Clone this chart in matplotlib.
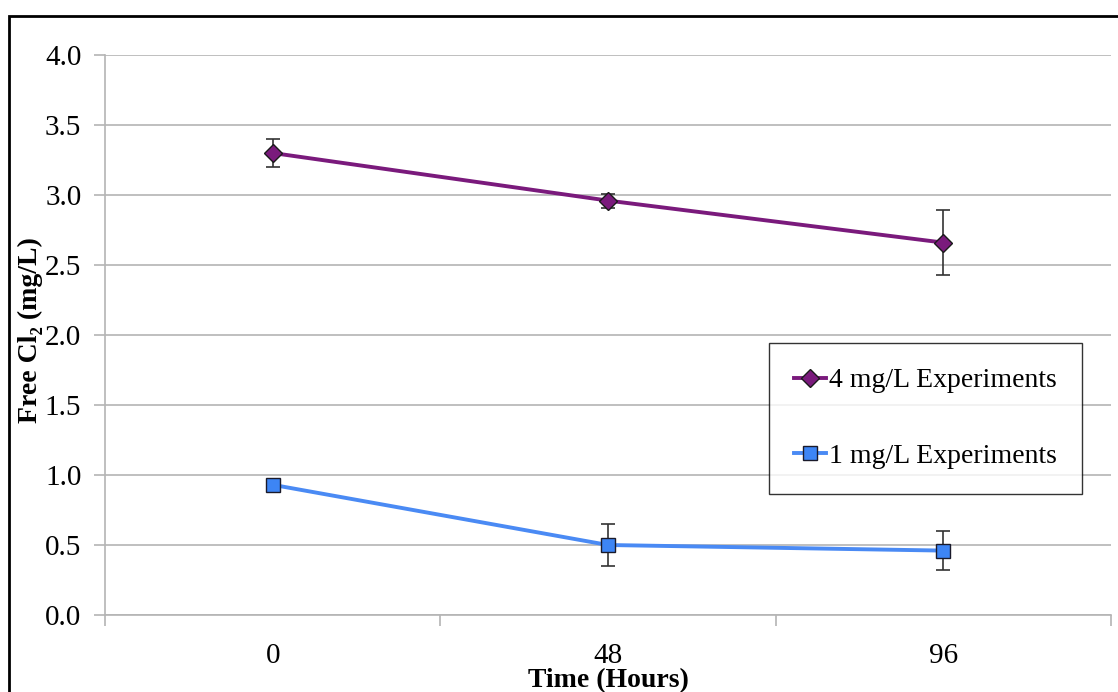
import matplotlib.pyplot as plt
from matplotlib.patches import Rectangle
import numpy as np

plt.rcParams['font.family'] = ['Liberation Serif', 'DejaVu Serif']

# data
times = ['0', '48', '96']
high_label = '4 mg/L Experiments'
high_vals = [3.30, 2.96, 2.66]
high_err = [0.10, 0.05, 0.23]
low_label = '1 mg/L Experiments'
low_vals = [0.93, 0.50, 0.46]
low_err = [0.02, 0.15, 0.14]
yticks = [0.0, 0.5, 1.0, 1.5, 2.0, 2.5, 3.0, 3.5, 4.0]

W, H = 1118, 692
fig = plt.figure(figsize=(W / 100, H / 100), dpi=100)
ax = fig.add_axes([105 / W, 1 - 615 / H, (1111 - 105) / W, (615 - 55) / H])

# frame round the whole chart
fig.patches.append(Rectangle((9 / W, -0.1), 1.2, 1 - 16 / H + 0.1, transform=fig.transFigure,
                             fill=False, edgecolor='black', linewidth=2))

x = np.arange(len(times))

ax.errorbar(x, high_vals, yerr=high_err, fmt='none', ecolor='#333333',
            elinewidth=1.2, capsize=5, capthick=1.2, zorder=3)
ax.errorbar(x, low_vals, yerr=low_err, fmt='none', ecolor='#333333',
            elinewidth=1.2, capsize=5, capthick=1.2, zorder=3)

l1, = ax.plot(x, high_vals, color='#7a1a7c', linewidth=2.8, marker='D', markersize=9,
              markerfacecolor='#7a1a7c', markeredgecolor='#1a1a1a', markeredgewidth=1.0,
              label=high_label, zorder=4)
l2, = ax.plot(x, low_vals, color='#4a8af4', linewidth=2.8, marker='s', markersize=10,
              markerfacecolor='#3d85f5', markeredgecolor='#1a1a2a', markeredgewidth=1.0,
              label=low_label, zorder=4)

ax.set_xlim(-0.5, len(times) - 0.5)
ax.set_ylim(0, 4.0)
ax.set_yticks(yticks)
ax.set_yticklabels([f'{v:.1f}' for v in yticks])
ax.set_xticks(x)
ax.set_xticklabels(times)
ax.set_xticks(np.arange(-0.5, len(times), 1.0), minor=True)

ax.grid(axis='y', color='#b4b4b4', linewidth=1.2)
ax.set_axisbelow(True)
for s in ['top', 'right']:
    ax.spines[s].set_visible(False)
ax.spines['left'].set_color('#b4b4b4')
ax.spines['bottom'].set_color('#b4b4b4')
ax.spines['left'].set_linewidth(1.2)
ax.spines['bottom'].set_linewidth(1.2)

ax.tick_params(axis='y', length=8, color='#b4b4b4', width=1.2, pad=9, labelsize=21)
ax.tick_params(axis='x', which='major', length=0, pad=20, labelsize=21)
ax.tick_params(axis='x', which='minor', length=8, color='#b4b4b4', width=1.2)

fig.text(30 / W, 1 - 330 / H, 'Free Cl\u2082 (mg/L)', rotation=90, fontsize=20,
         fontweight='bold', ha='center', va='center')
fig.text(608 / W, 1 - 681 / H, 'Time (Hours)', fontsize=20, fontweight='bold',
         ha='center', va='center')

leg = ax.legend(handles=[l1, l2], loc='upper left', bbox_to_anchor=((769 - 105) / 1006, (615 - 343) / 560),
                fontsize=20, frameon=True, fancybox=False, edgecolor='black',
                handlelength=1.15, handletextpad=0.1, labelspacing=1.8,
                borderpad=0.9, borderaxespad=0)
leg.get_frame().set_linewidth(1.0)

fig.savefig('out.png', dpi=100)
